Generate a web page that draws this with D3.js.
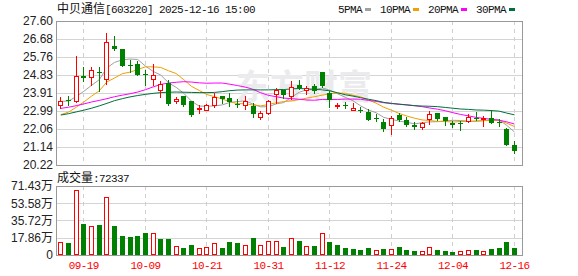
<!DOCTYPE html>
<html>
<head>
<meta charset="utf-8">
<script src="https://cdn.jsdelivr.net/npm/d3@7"></script>
<style>
body { margin: 0; background: #fff; }
svg { display: block; }
</style>
</head>
<body>
<svg id="chart" width="578" height="276"></svg>
<script>
var dates = ["09-16","09-17","09-18","09-19","09-22","09-23","09-24","09-25","09-26","09-29","09-30",
  "10-09","10-10","10-13","10-14","10-15","10-16","10-17","10-20","10-21","10-22","10-23","10-24","10-27","10-28","10-29","10-30","10-31",
  "11-03","11-04","11-05","11-06","11-07","11-10","11-11","11-12","11-13","11-14","11-17","11-18","11-19","11-20","11-21","11-24","11-25","11-26","11-27","11-28",
  "12-01","12-02","12-03","12-04","12-05","12-08","12-09","12-10","12-11","12-12","12-15","12-16"];

var open  = [23.27,23.56,23.48,24.80,24.71,24.99,24.64,26.34,26.15,25.36,25.40,24.86,24.64,24.05,24.40,
  23.48,23.75,23.48,23.08,23.06,23.31,23.74,23.64,23.37,23.30,23.26,22.70,22.89,23.86,24.05,
  23.74,24.30,24.06,24.25,24.99,23.91,23.23,23.31,23.05,23.06,22.94,22.61,22.41,22.27,22.80,
  22.51,22.29,22.18,22.56,22.88,22.66,22.39,22.37,22.46,22.65,22.60,22.63,22.41,22.08,21.26];
var high  = [23.72,23.75,25.81,25.26,25.22,25.24,26.98,26.83,26.16,25.60,25.57,25.10,25.40,24.50,24.60,
  23.72,23.78,23.50,23.28,23.35,23.91,23.76,23.91,23.60,23.74,23.38,22.97,23.53,24.17,24.08,
  24.54,24.59,24.25,24.39,25.00,24.00,23.40,23.45,23.40,23.17,23.11,22.83,22.58,22.71,22.90,
  22.70,22.44,22.41,22.97,22.89,22.67,22.47,22.46,22.82,22.95,22.71,23.04,22.59,22.10,21.43];
var low   = [23.15,23.27,23.44,24.50,24.34,23.99,24.37,26.13,25.30,25.00,24.83,24.33,24.30,23.73,23.30,
  23.41,23.26,22.74,22.86,23.02,23.18,23.42,23.23,23.21,23.07,22.66,22.59,22.82,23.40,23.65,
  23.60,24.13,23.88,23.91,24.20,23.19,23.12,23.14,23.04,22.92,22.51,22.49,21.98,21.81,22.49,
  22.22,22.06,22.06,22.32,22.53,22.29,22.17,22.03,22.42,22.54,22.22,22.36,22.24,21.25,20.84];
var close = [23.50,23.48,24.76,24.70,25.07,24.96,26.51,26.18,25.31,25.29,24.85,24.82,24.83,24.36,23.35,
  23.62,23.31,22.80,23.12,23.28,23.72,23.59,23.43,23.33,23.50,22.85,22.87,23.50,24.05,23.82,
  24.20,24.17,24.18,24.03,24.29,23.57,23.29,23.26,23.12,23.01,22.54,22.56,22.08,22.61,22.54,
  22.27,22.17,22.36,22.82,22.59,22.47,22.29,22.33,22.66,22.60,22.63,22.38,22.37,21.26,20.92];

// volume in 万
var volume = [13.3,12.5,67.0,32.4,30.0,31.4,59.6,29.6,19.9,18.8,19.9,23.0,22.7,16.7,16.7,
  9.4,7.3,10.5,7.3,8.7,12.2,7.3,13.6,12.5,10.5,17.8,10.5,14.6,14.6,8.4,
  17.8,14.6,9.4,9.4,22.7,13.6,10.5,7.3,6.3,5.2,7.3,5.2,6.3,6.3,8.4,
  5.2,4.2,3.8,8.4,5.2,4.2,3.1,3.8,4.9,5.2,3.8,6.3,7.3,13.6,7.2337];

var ma5  = [23.48,23.50,23.72,24.00,24.30,24.59,25.20,25.48,25.61,25.65,25.63,25.29,25.02,24.83,24.44,
  24.20,23.89,23.49,23.24,23.23,23.25,23.30,23.43,23.47,23.51,23.34,23.20,23.21,23.35,23.42,
  23.69,23.95,24.08,24.08,24.17,24.05,23.87,23.69,23.51,23.25,23.04,22.90,22.66,22.56,22.47,
  22.41,22.33,22.39,22.43,22.44,22.48,22.51,22.50,22.47,22.47,22.50,22.52,22.53,22.25,21.91];
var ma10 = [22.80,22.93,23.18,23.45,23.75,24.02,24.48,24.68,24.90,24.98,25.11,25.25,25.25,25.22,25.05,
  24.91,24.59,24.25,24.04,23.83,23.72,23.60,23.46,23.36,23.37,23.29,23.25,23.32,23.41,23.47,
  23.51,23.57,23.65,23.72,23.80,23.87,23.91,23.89,23.79,23.71,23.55,23.39,23.18,23.03,22.86,
  22.73,22.62,22.53,22.50,22.45,22.45,22.42,22.45,22.45,22.46,22.49,22.51,22.51,22.36,22.19];
var ma20 = [23.12,23.18,23.26,23.35,23.45,23.53,23.62,23.72,23.80,23.87,23.96,24.08,24.22,24.35,24.42,
  24.46,24.49,24.47,24.43,24.41,24.42,24.42,24.36,24.29,24.21,24.10,23.92,23.79,23.72,23.65,
  23.62,23.59,23.55,23.54,23.58,23.58,23.58,23.60,23.60,23.59,23.53,23.48,23.41,23.38,23.33,
  23.30,23.26,23.21,23.14,23.08,23.00,22.90,22.81,22.74,22.66,22.61,22.56,22.52,22.43,22.32];
var ma30 = [22.78,22.85,22.94,23.03,23.13,23.25,23.38,23.52,23.62,23.71,23.78,23.84,23.89,23.93,23.95,
  23.96,23.95,23.94,23.93,23.93,23.94,23.98,24.03,24.06,24.07,24.07,24.07,24.07,24.08,24.09,
  24.12,24.14,24.12,24.10,24.07,24.02,23.92,23.82,23.75,23.67,23.59,23.52,23.43,23.37,23.34,
  23.30,23.26,23.24,23.23,23.21,23.17,23.13,23.09,23.07,23.04,23.03,23.01,22.98,22.88,22.79];

var maNames  = ["5PMA","10PMA","20PMA","30PMA"];
var maColors = ["#a0a0a0","#f0a000","#ff00ff","#00703a"];

var priceTicks = [20.22,21.14,22.06,22.99,23.91,24.83,25.76,26.68,27.60];
var volTicks = [0,17.86,35.72,53.58,71.43];
var volTickLabels = ["0","17.86万","35.72万","53.58万","71.43万"];
var dateTicks = ["09-19","10-09","10-21","10-31","11-12","11-24","12-04","12-16"];

var stockTitle = "中贝通信";
var stockInfo = "[603220] 2025-12-16 15:00";

var RED = "#ff0000", GREEN = "#008000";
var left = 56, right = 522;
var priceTop = 21, priceBottom = 165;
var volTop = 186, volBottom = 255;
var monoFont = "'Liberation Mono', monospace";
var cjkFont = "'Noto Sans CJK SC', sans-serif";

var svg = d3.select('#chart');

var x = d3.scalePoint().domain(dates).range([60.3, 514]);
var y = d3.scaleLinear().domain([20.22, 27.60]).range([priceBottom, priceTop]);
var yv = d3.scaleLinear().domain([0, 71.43]).range([volBottom, volTop]);

function px(v) { return Math.round(v) + 0.5; }

// horizontal grid
svg.append("g").selectAll("line")
    .data(priceTicks)
    .join("line")
        .attr("x1", left).attr("x2", right)
        .attr("y1", d => px(y(d))).attr("y2", d => px(y(d)))
        .attr("stroke", "#d4d4d4");
svg.append("g").selectAll("line")
    .data(volTicks)
    .join("line")
        .attr("x1", left).attr("x2", right)
        .attr("y1", d => px(yv(d))).attr("y2", d => px(yv(d)))
        .attr("stroke", "#d4d4d4");

// vertical dashed lines
[[priceTop, priceBottom], [volTop, volBottom]].forEach(r => {
    svg.append("g").selectAll("line")
        .data(dateTicks)
        .join("line")
            .attr("x1", d => px(x(d))).attr("x2", d => px(x(d)))
            .attr("y1", r[0]).attr("y2", r[1])
            .attr("stroke", "#cfcfcf")
            .attr("stroke-dasharray", "4,4");
});

// watermark
svg.append("text")
    .attr("x", 236).attr("y", 99)
    .attr("font-family", cjkFont)
    .attr("font-size", 34)
    .attr("font-weight", "bold")
    .attr("fill", "#ebebee")
    .text("东方财富");

// frames
svg.append("rect")
    .attr("x", left + 0.5).attr("y", priceTop + 0.5)
    .attr("width", right - left).attr("height", priceBottom - priceTop)
    .attr("fill", "none").attr("stroke", "#999");
svg.append("rect")
    .attr("x", left + 0.5).attr("y", volTop + 0.5)
    .attr("width", right - left).attr("height", volBottom - volTop)
    .attr("fill", "none").attr("stroke", "#999");

// moving averages
var line = d3.line()
    .x((d, i) => x(dates[i]) + 0.5)
    .y(d => y(d));
[ma5, ma10, ma20, ma30].forEach((s, k) => {
    svg.append("path")
        .attr("d", line(s))
        .attr("fill", "none")
        .attr("stroke", maColors[k])
        .attr("stroke-width", 1);
});

// candles
var candle = svg.append("g").selectAll("g")
    .data(dates)
    .join("g");
candle.append("line")
    .attr("x1", d => px(x(d))).attr("x2", d => px(x(d)))
    .attr("y1", (d, i) => Math.round(y(high[i])))
    .attr("y2", (d, i) => Math.round(y(low[i])) + 1)
    .attr("stroke", (d, i) => close[i] >= open[i] ? RED : GREEN);
candle.append("rect")
    .attr("x", (d, i) => close[i] >= open[i] ? Math.round(x(d)) - 2 + 0.5 : Math.round(x(d)) - 2)
    .attr("y", (d, i) => close[i] >= open[i] ? Math.round(y(close[i])) + 0.5 : Math.round(y(open[i])))
    .attr("width", (d, i) => close[i] >= open[i] ? 4 : 5)
    .attr("height", (d, i) => close[i] >= open[i]
        ? Math.max(0, Math.round(y(open[i])) - Math.round(y(close[i])))
        : Math.max(1, Math.round(y(close[i])) - Math.round(y(open[i]))))
    .attr("fill", (d, i) => close[i] >= open[i] ? "#fff" : GREEN)
    .attr("stroke", (d, i) => close[i] >= open[i] ? RED : "none");

// volume bars
function volUp(i) { return i === 0 ? close[0] >= open[0] : close[i] >= close[i - 1]; }
svg.append("g").selectAll("rect")
    .data(dates)
    .join("rect")
        .attr("x", (d, i) => volUp(i) ? Math.round(x(d)) - 2 + 0.5 : Math.round(x(d)) - 2)
        .attr("y", (d, i) => volUp(i) ? Math.round(yv(volume[i])) + 0.5 : Math.round(yv(volume[i])))
        .attr("width", (d, i) => volUp(i) ? 4 : 5)
        .attr("height", (d, i) => volUp(i)
            ? Math.max(0, volBottom - 1 - Math.round(yv(volume[i])))
            : volBottom - Math.round(yv(volume[i])))
        .attr("fill", (d, i) => volUp(i) ? "#fff" : GREEN)
        .attr("stroke", (d, i) => volUp(i) ? RED : "none");

// axes
var yAxis = svg.append("g")
    .attr("transform", "translate(" + left + ",0)")
    .call(d3.axisLeft(y).tickValues(priceTicks).tickSize(0).tickPadding(3).tickFormat(d3.format(".2f")));
var vAxis = svg.append("g")
    .attr("transform", "translate(" + left + ",0)")
    .call(d3.axisLeft(yv).tickValues(volTicks).tickSize(0).tickPadding(3).tickFormat((d, i) => volTickLabels[i]));
[yAxis, vAxis].forEach(a => {
    a.select(".domain").remove();
    a.selectAll("text")
        .attr("font-family", "'Liberation Sans', " + cjkFont)
        .attr("font-size", 12)
        .attr("fill", "#222");
});

var xAxis = svg.append("g")
    .attr("transform", "translate(0," + volBottom + ")")
    .call(d3.axisBottom(x).tickValues(dateTicks).tickSize(0).tickPadding(6));
xAxis.select(".domain").remove();
xAxis.selectAll("text")
    .attr("font-family", monoFont)
    .attr("font-size", 11)
    .attr("letter-spacing", "-0.6px")
    .attr("fill", RED);

// title
var title = svg.append("text").attr("x", 57).attr("y", 13).attr("fill", "#111");
title.append("tspan").attr("font-family", cjkFont).attr("font-size", 12).text(stockTitle);
title.append("tspan").attr("font-family", monoFont).attr("font-size", 11)
    .attr("letter-spacing", "-0.6px").text(stockInfo);

// legend
var lx = 338;
maNames.forEach((name, k) => {
    svg.append("text")
        .attr("x", lx).attr("y", 13)
        .attr("font-family", monoFont).attr("font-size", 11)
        .attr("letter-spacing", "-0.6px")
        .attr("fill", "#111")
        .text(name);
    var sx = lx + name.length * 6 + 3;
    svg.append("rect")
        .attr("x", sx).attr("y", 8)
        .attr("width", 6).attr("height", 3)
        .attr("fill", maColors[k]);
    lx = sx + 15;
});

// volume caption
var cap = svg.append("text").attr("x", 57).attr("y", 182).attr("fill", "#111");
cap.append("tspan").attr("font-family", cjkFont).attr("font-size", 12).text("成交量");
cap.append("tspan").attr("font-family", monoFont).attr("font-size", 11)
    .attr("letter-spacing", "-0.6px").text(":" + Math.round(volume[volume.length - 1] * 10000));
</script>
</body>
</html>
